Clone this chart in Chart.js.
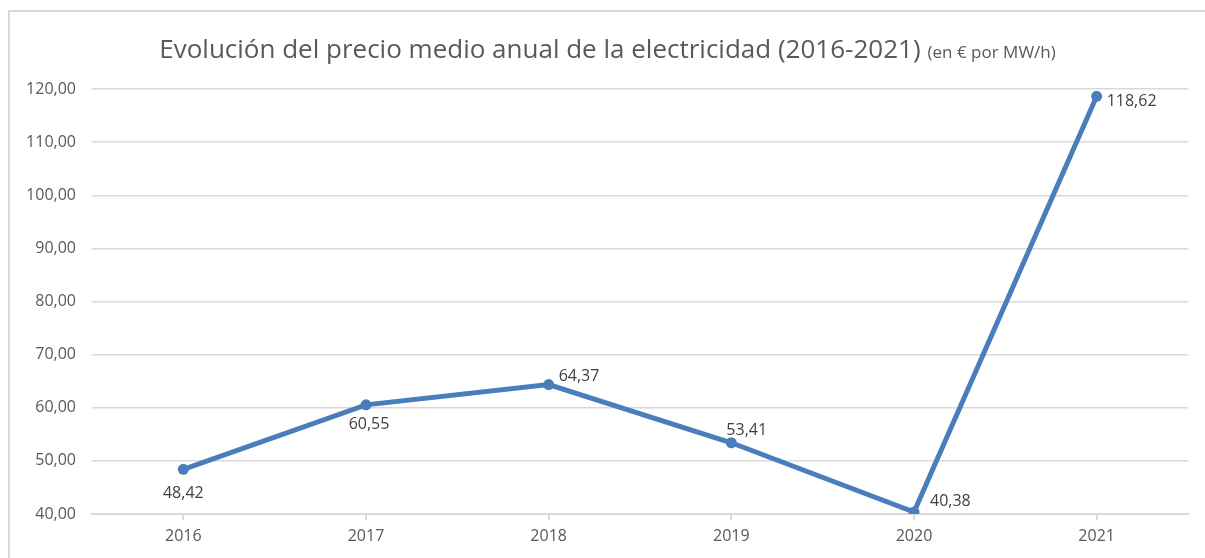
<!DOCTYPE html>
<html lang="es">
<head>
    <meta charset="UTF-8">
    <title>Evolución del precio medio anual de la electricidad</title>
    <script src="https://cdn.jsdelivr.net/npm/chart.js"></script>
    <style>
        html, body {
            margin: 0;
            padding: 0;
            background: #fff;
            overflow: hidden;
        }
        #frame {
            position: absolute;
            left: 8px;
            top: 10px;
            width: 1197px;
            height: 548px;
            border-left: 2px solid #d9d9d9;
            border-top: 2px solid #d9d9d9;
        }
        #frame canvas {
            display: block;
        }
    </style>
</head>
<body>
    <div id="frame">
        <canvas id="priceChart" width="1195" height="546"></canvas>
    </div>

    <script>
        const years = ['2016', '2017', '2018', '2019', '2020', '2021'];
        const prices = [48.42, 60.55, 64.37, 53.41, 40.38, 118.62];
        const yTicks = [40, 50, 60, 70, 80, 90, 100, 110, 120];

        const titleMain = 'Evolución del precio medio anual de la electricidad (2016-2021)';
        const titleUnit = '(en € por MW/h)';

        const lineColor = '#4a7ebb';
        const fmt = v => v.toFixed(2).replace('.', ',');

        // where each value label sits relative to its point
        const labelOffsets = [
            { dx: 0, dy: 24, align: 'center' },
            { dx: 3, dy: 20, align: 'center' },
            { dx: 10, dy: -8, align: 'left' },
            { dx: -5, dy: -12, align: 'left' },
            { dx: 16, dy: -11, align: 'left' },
            { dx: 10, dy: 5, align: 'left' }
        ];

        const valueLabels = {
            id: 'valueLabels',
            afterDatasetsDraw(chart) {
                const ctx = chart.ctx;
                const meta = chart.getDatasetMeta(0);
                ctx.save();
                ctx.font = '16px "Open Sans", sans-serif';
                ctx.fillStyle = '#404040';
                ctx.textBaseline = 'middle';
                meta.data.forEach((pt, i) => {
                    const o = labelOffsets[i];
                    ctx.textAlign = o.align;
                    ctx.fillText(fmt(prices[i]), pt.x + o.dx, pt.y + o.dy);
                });
                ctx.restore();
            }
        };

        const titleDraw = {
            id: 'titleDraw',
            afterDraw(chart) {
                const ctx = chart.ctx;
                ctx.save();
                ctx.textBaseline = 'alphabetic';
                ctx.textAlign = 'left';
                const mainFont = '26px "Open Sans", sans-serif';
                const unitFont = '17px "Open Sans", sans-serif';
                ctx.font = mainFont;
                const w1 = ctx.measureText(titleMain).width;
                ctx.font = unitFont;
                const w2 = ctx.measureText(titleUnit).width;
                const gap = 7;
                let x = (chart.width - (w1 + gap + w2)) / 2;
                const y = 46;
                ctx.fillStyle = '#595959';
                ctx.font = mainFont;
                ctx.fillText(titleMain, x, y);
                ctx.font = unitFont;
                ctx.fillText(titleUnit, x + w1 + gap, y);
                ctx.restore();
            }
        };

        const ctx = document.getElementById('priceChart').getContext('2d');

        new Chart(ctx, {
            type: 'line',
            data: {
                labels: years,
                datasets: [{
                    data: prices,
                    borderColor: lineColor,
                    backgroundColor: lineColor,
                    borderWidth: 5,
                    pointRadius: 5.5,
                    pointHoverRadius: 5.5,
                    pointBorderWidth: 0,
                    tension: 0,
                    fill: false
                }]
            },
            options: {
                responsive: false,
                animation: false,
                layout: {
                    padding: { top: 77, right: 17, bottom: 0, left: 0 }
                },
                plugins: {
                    legend: { display: false },
                    title: { display: false },
                    tooltip: { enabled: false }
                },
                scales: {
                    x: {
                        offset: true,
                        border: { display: true, color: '#d9d9d9', width: 2 },
                        grid: {
                            display: true,
                            drawOnChartArea: false,
                            drawTicks: true,
                            tickLength: 6,
                            color: '#d9d9d9',
                            lineWidth: 2
                        },
                        ticks: {
                            color: '#595959',
                            font: { family: '"Open Sans", sans-serif', size: 16 },
                            padding: 7
                        },
                        afterFit(scale) { scale.height = 44; }
                    },
                    y: {
                        min: 40,
                        max: 120,
                        afterBuildTicks(scale) {
                            scale.ticks = yTicks.map(v => ({ value: v }));
                        },
                        border: { display: false },
                        grid: {
                            color: '#d9d9d9',
                            lineWidth: 1.5,
                            drawTicks: false
                        },
                        ticks: {
                            color: '#595959',
                            font: { family: '"Open Sans", sans-serif', size: 16 },
                            padding: 16,
                            callback: v => fmt(v)
                        },
                        afterFit(scale) { scale.width = 82; }
                    }
                }
            },
            plugins: [valueLabels, titleDraw]
        });
    </script>
</body>
</html>
